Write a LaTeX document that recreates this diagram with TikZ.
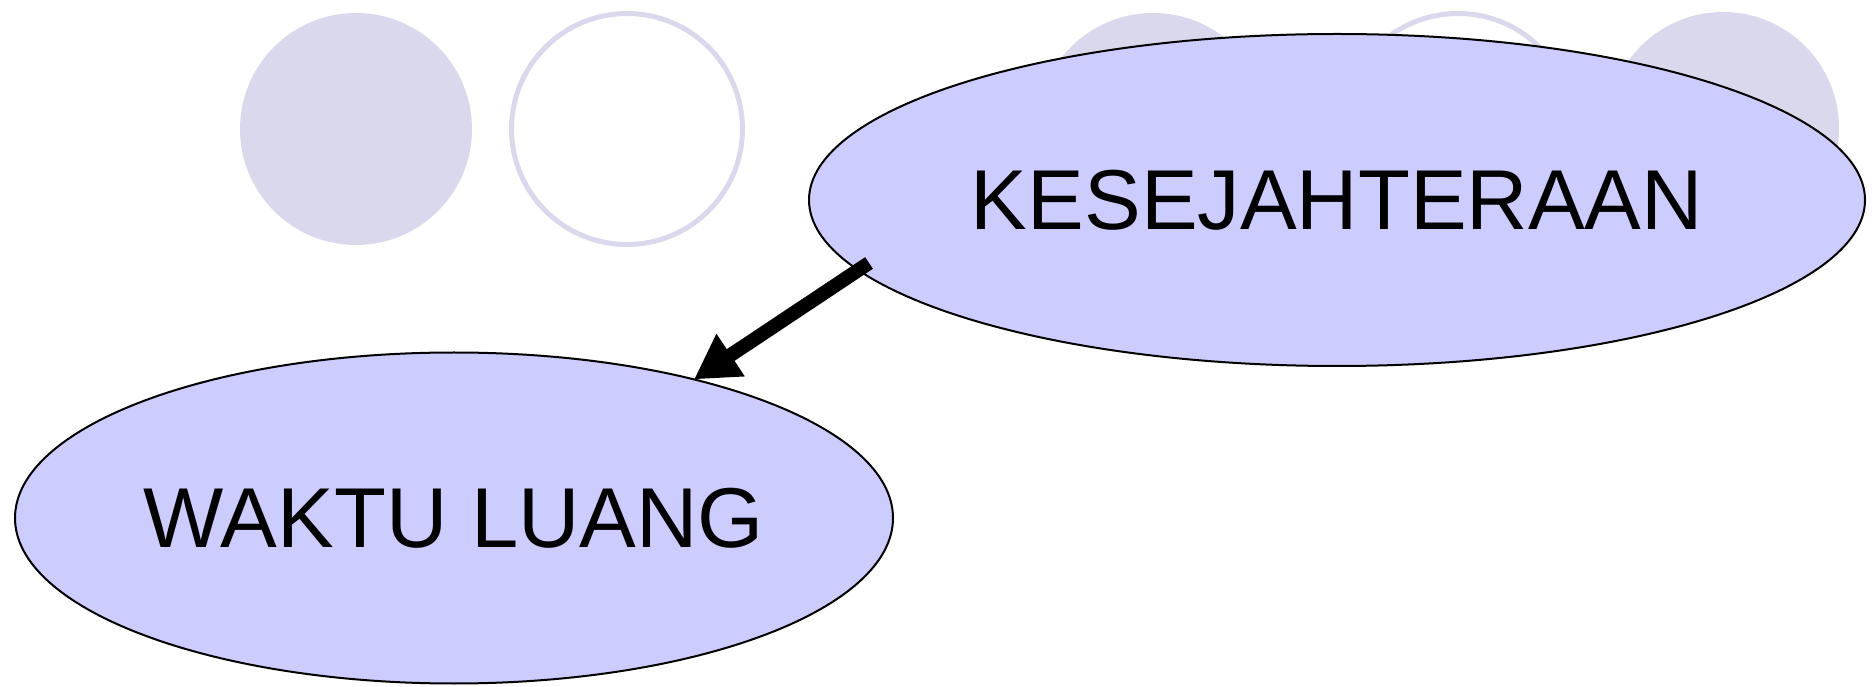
\documentclass[tikz,border=0pt]{standalone}
\usepackage{fontspec}
\setmainfont{Liberation Sans}
\usetikzlibrary{arrows.meta,calc,shapes.geometric}
\definecolor{bgfill}{RGB}{218,216,236}
\definecolor{nodefill}{RGB}{204,204,255}
\begin{document}
\begin{tikzpicture}[x=1pt,y=1pt,
  deco/.style={circle, inner sep=0pt, outer sep=0pt},
  decofill/.style={deco, fill=bgfill, minimum size=232pt},
  decoring/.style={deco, draw=bgfill, line width=5pt, minimum size=231pt},
  topic/.style={ellipse, draw=black, line width=2pt, fill=nodefill, inner sep=0pt, outer sep=0pt, font=\fontsize{85}{100}\selectfont},
  link/.style={line width=14pt, -{Triangle[length=44pt,width=48pt]}}]
\useasboundingbox (0,0) rectangle (1875,686);
% background decorations
\node[decofill] (c1) at (356,557) {};
\node[decoring] (c2) at (627,557) {};
\node[decofill] (c3) at (1153,557) {};
\node[decoring] (c4) at (1458,557) {};
\node[decofill] (c5) at (1723,558) {};
% main nodes
\node[topic, minimum width=1056pt, minimum height=332pt] (k) at (1337,486) {KESEJAHTERAAN};
\node[topic, minimum width=878pt, minimum height=331pt] (w) at (454,168) {WAKTU LUANG};
\coordinate (s) at ($(k.center)+(-468,-63)$);
\draw[link] (s) -- (w.30.7);
\end{tikzpicture}
\end{document}
